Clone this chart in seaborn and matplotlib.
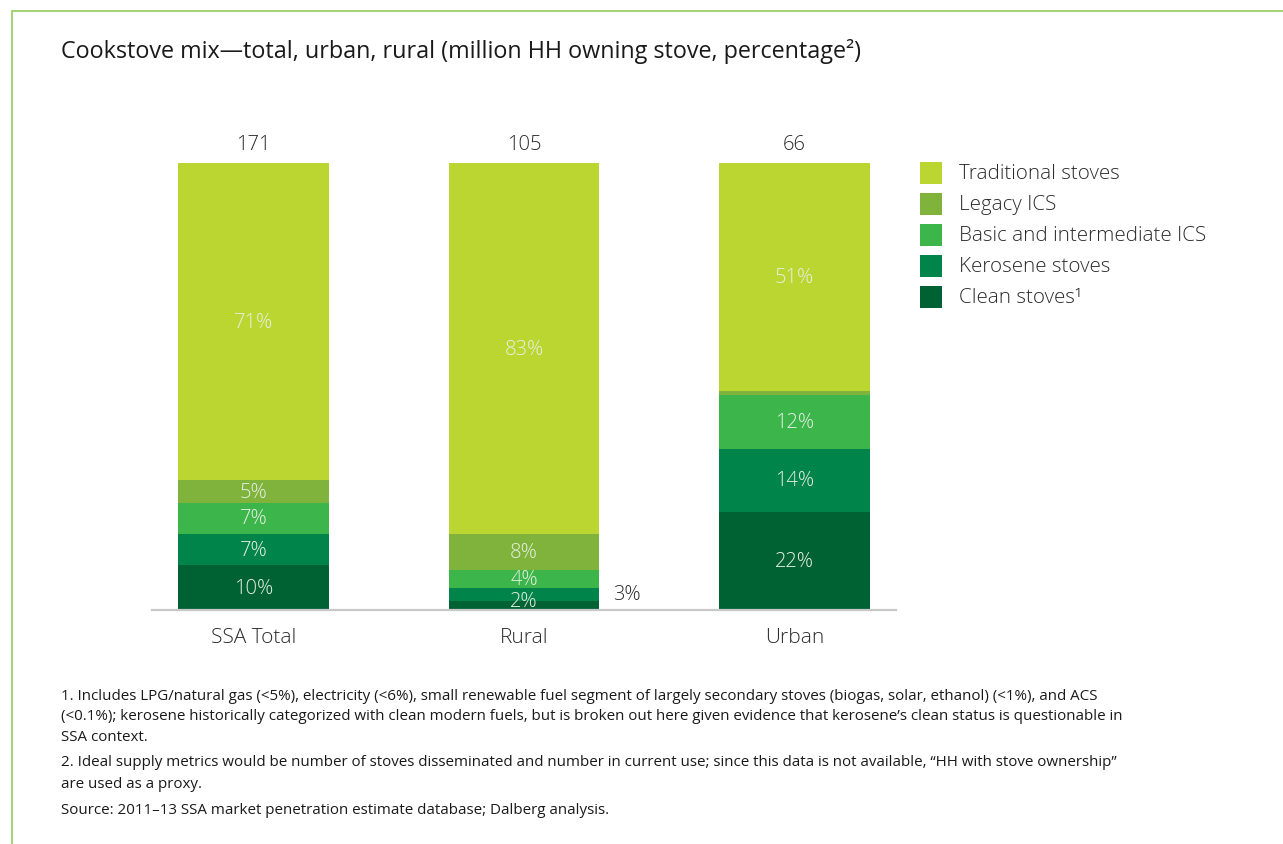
import numpy as np
import pandas as pd
import matplotlib
matplotlib.use("Agg")
import matplotlib.pyplot as plt
from matplotlib.patches import Rectangle
from matplotlib.lines import Line2D
import seaborn as sns

# ---- data -------------------------------------------------------------
groups = ["SSA Total", "Rural", "Urban"]
totals_mhh = [171, 105, 66]  # million households owning a stove
# stack order from bottom to top
segments = ["Clean stoves", "Kerosene stoves", "Basic and intermediate ICS",
            "Legacy ICS", "Traditional stoves"]
clean = [10, 2, 22]
kerosene = [7, 3, 14]
basic_ics = [7, 4, 12]
legacy_ics = [5, 8, 1]
traditional = [71, 83, 51]

legend_labels = ["Traditional stoves", "Legacy ICS", "Basic and intermediate ICS",
                 "Kerosene stoves", "Clean stoves\u00b9"]

title = "Cookstove mix\u2014total, urban, rural (million HH owning stove, percentage\u00b2)"
footnotes = [
    "1. Includes LPG/natural gas (<5%), electricity (<6%), small renewable fuel segment of largely secondary stoves (biogas, solar, ethanol) (<1%), and ACS",
    "(<0.1%); kerosene historically categorized with clean modern fuels, but is broken out here given evidence that kerosene\u2019s clean status is questionable in",
    "SSA context.",
    "2. Ideal supply metrics would be number of stoves disseminated and number in current use; since this data is not available, \u201cHH with stove ownership\u201d",
    "are used as a proxy.",
    "Source: 2011\u201313 SSA market penetration estimate database; Dalberg analysis.",
]

# ---- styling ----------------------------------------------------------
colors = {
    "Clean stoves": "#006233",
    "Kerosene stoves": "#00844a",
    "Basic and intermediate ICS": "#3cb64a",
    "Legacy ICS": "#80b33b",
    "Traditional stoves": "#bcd631",
}
text_dark = "#2b2b2b"
label_light = "#e6efe3"
frame_green = "#a5d27a"

sns.set_theme(style="white")
plt.rcParams["font.family"] = ["Open Sans", "DejaVu Sans"]

W, H = 1283, 845
fig = plt.figure(figsize=(W / 100, H / 100), dpi=100)
fig.patch.set_facecolor("white")

ax_left, ax_right, ax_bottom, ax_top = 152, 896, 611, 164
ax = fig.add_axes([ax_left / W, (H - ax_bottom) / H,
                   (ax_right - ax_left) / W, (ax_bottom - ax_top) / H])

values = pd.DataFrame({
    "group": groups,
    "Clean stoves": clean,
    "Kerosene stoves": kerosene,
    "Basic and intermediate ICS": basic_ics,
    "Legacy ICS": legacy_ics,
    "Traditional stoves": traditional,
})
cum = values[segments].cumsum(axis=1)

# draw cumulative bars from the tallest down so each layer shows its own slice
bar_width = 0.558
for seg in reversed(segments):
    sns.barplot(x=values["group"], y=cum[seg], color=colors[seg],
                width=bar_width, saturation=1, ax=ax, linewidth=0,
                order=groups)

ax.set_xlim(-0.375, 2.375)
ax.set_ylim(0, 100)
ax.set_xlabel("")
ax.set_ylabel("")
ax.set_yticks([])
for s in ["top", "right", "left"]:
    ax.spines[s].set_visible(False)
ax.spines["bottom"].set_color("#c8c8c8")
ax.spines["bottom"].set_linewidth(1.6)
ax.tick_params(axis="x", length=0, pad=12, labelcolor=text_dark)
for t in ax.get_xticklabels():
    t.set_fontsize(15)
    t.set_fontweight("light")

# segment labels
outside = {("Rural", "Kerosene stoves")}
for i, g in enumerate(groups):
    base = 0
    for seg in segments:
        v = values.loc[i, seg]
        mid = base + v / 2
        base += v
        if v < 2:
            continue
        if (g, seg) in outside:
            ax.text(i + bar_width / 2 + 0.1, mid, f"{v}%", ha="center", va="center",
                    fontsize=14.5, fontweight="light", color=text_dark, clip_on=False)
        else:
            ax.text(i, max(mid, 2.1), f"{v}%", ha="center", va="center",
                    fontsize=14.5, fontweight="light", color=label_light)
    # total households above each bar
    ax.text(i, 104.2, f"{totals_mhh[i]}", ha="center", va="center",
            fontsize=14.5, fontweight="light", color=text_dark, clip_on=False)

# legend
sq = 22
rows_y = [174, 205, 236, 267, 298]
for y, lab in zip(rows_y, legend_labels):
    seg = lab.rstrip("\u00b9")
    fig.add_artist(Rectangle((920 / W, (H - y - sq / 2) / H), sq / W, sq / H,
                             transform=fig.transFigure, facecolor=colors[seg],
                             edgecolor="none"))
    fig.text(959 / W, (H - y) / H, lab, ha="left", va="center",
             fontsize=14.8, fontweight="light", color=text_dark)

# title
fig.text(61 / W, (H - 52) / H, title, ha="left", va="center",
         fontsize=16.8, color="#1a1a1a")

# footnotes
foot_y = [697, 717, 738, 763, 785, 811]
for y, line in zip(foot_y, footnotes):
    fig.text(61 / W, (H - y) / H, line, ha="left", va="center",
             fontsize=10.88, color="#1a1a1a")

# page frame
fig.add_artist(Line2D([12 / W, 12 / W], [0, (H - 12) / H], transform=fig.transFigure,
                      color=frame_green, linewidth=1.5))
fig.add_artist(Line2D([12 / W, 1], [(H - 12) / H, (H - 12) / H],
                      transform=fig.transFigure, color=frame_green, linewidth=1.5))

fig.savefig("out.png", dpi=100, facecolor="white")
